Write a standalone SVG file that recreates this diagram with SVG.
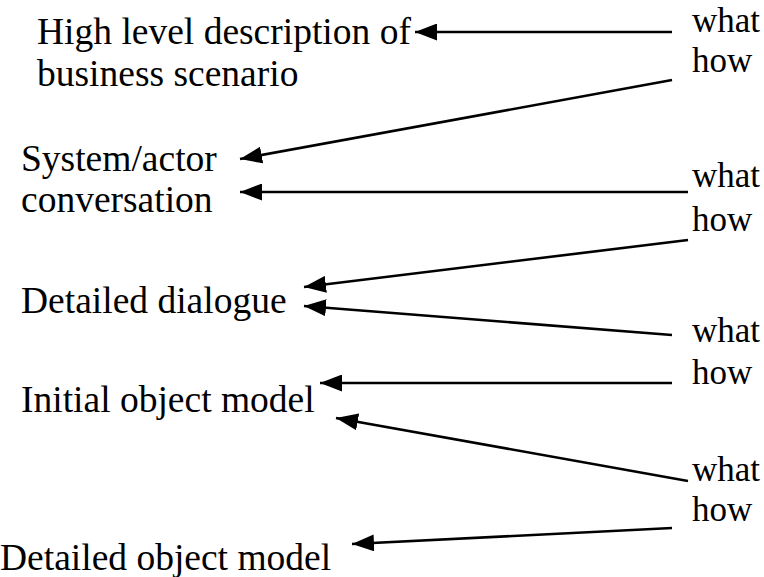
<svg xmlns="http://www.w3.org/2000/svg" width="764" height="577" viewBox="0 0 764 577">
<defs>
<marker id="ah" viewBox="0 0 22 17" refX="22" refY="8.5" markerWidth="22" markerHeight="17" markerUnits="userSpaceOnUse" orient="auto">
<path d="M0,0 L22,8.5 L0,17 Z" fill="#000"/>
</marker>
<style>
text{font-family:"Liberation Serif","Times New Roman",serif;font-size:37.5px;fill:#000}
.r text{font-size:35px}
.c line{stroke:#000;stroke-width:2.6;marker-end:url(#ah)}
</style>
</defs>
<rect width="764" height="577" fill="#fff"/>
<g id="n1"><text x="37" y="44">High level description of</text><text x="37" y="86">business scenario</text></g>
<g id="n2"><text x="21" y="171">System/actor</text><text x="21" y="212">conversation</text></g>
<g id="n3"><text x="21" y="313">Detailed dialogue</text></g>
<g id="n4"><text x="21" y="412">Initial object model</text></g>
<g id="n5"><text x="0" y="570">Detailed object model</text></g>
<g class="r" id="w1"><text x="692" y="32">what</text><text x="692" y="72">how</text></g>
<g class="r" id="w2"><text x="692" y="187">what</text><text x="692" y="231">how</text></g>
<g class="r" id="w3"><text x="692" y="342">what</text><text x="692" y="384">how</text></g>
<g class="r" id="w4"><text x="692" y="481">what</text><text x="692" y="521">how</text></g>
<g class="c" id="connectors">
<line x1="672" y1="32" x2="415" y2="32"/>
<line x1="672" y1="80" x2="240" y2="159"/>
<line x1="688" y1="192" x2="240" y2="192"/>
<line x1="688" y1="240" x2="304" y2="287"/>
<line x1="672" y1="335" x2="304" y2="306"/>
<line x1="672" y1="383" x2="320" y2="383"/>
<line x1="688" y1="481" x2="336" y2="418"/>
<line x1="672" y1="528" x2="352" y2="544"/>
</g>
</svg>
